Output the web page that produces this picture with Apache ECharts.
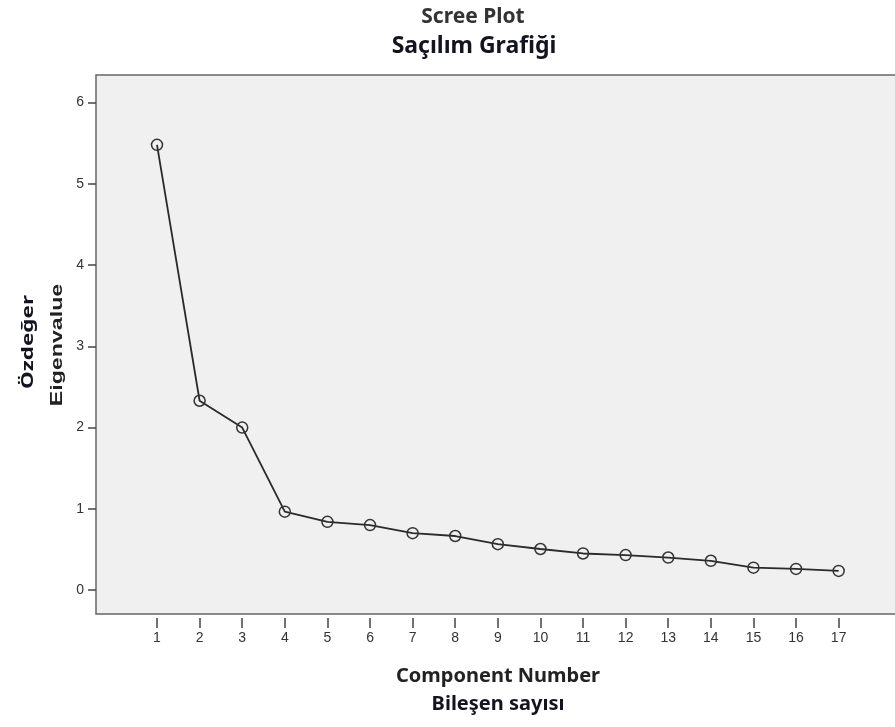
<!DOCTYPE html>
<html>
<head>
<meta charset="utf-8">
<script src="https://cdn.jsdelivr.net/npm/echarts@6/dist/echarts.min.js"></script>
<style>
  html, body { margin: 0; padding: 0; background: #fff; }
  #main { width: 895px; height: 727px; }
</style>
</head>
<body>
<div id="main"></div>
<script>
// component numbers and their eigenvalues
var components = [1, 2, 3, 4, 5, 6, 7, 8, 9, 10, 11, 12, 13, 14, 15, 16, 17];
var eigenvalues = [5.48, 2.33, 2.0, 0.965, 0.84, 0.8, 0.7, 0.665, 0.565, 0.505, 0.45, 0.43, 0.4, 0.36, 0.275, 0.26, 0.235];
var yTicks = [0, 1, 2, 3, 4, 5, 6];

var points = components.map(function (c, i) { return [c, eigenvalues[i]]; });

var myChart = echarts.init(document.getElementById('main'));
myChart.setOption({
  animation: false,
  backgroundColor: '#fff',
  title: [{
    text: 'Scree Plot',
    left: 468,
    textAlign: 'center',
    top: 0,
    textStyle: { fontFamily: 'Noto Sans', fontWeight: 'bold', fontSize: 21, lineHeight: 24, color: '#333' }
  }, {
    text: 'Saçılım Grafiği',
    left: 469,
    textAlign: 'center',
    top: 28,
    textStyle: { fontFamily: 'Noto Sans', fontWeight: 'bold', fontSize: 23, lineHeight: 26, color: '#141420' }
  }],
  // rotated y-axis titles, stretched along their length like the reference
  graphic: [{
    type: 'text',
    x: 28, y: 342,
    rotation: Math.PI / 2,
    scaleX: 1.4,
    style: { text: 'Özdeğer', fontFamily: 'Noto Sans', fontWeight: 'bold', fontSize: 16, fill: '#141420', align: 'center', verticalAlign: 'middle' }
  }, {
    type: 'text',
    x: 58, y: 345,
    rotation: Math.PI / 2,
    scaleX: 1.45,
    style: { text: 'Eigenvalue', fontFamily: 'Liberation Sans', fontWeight: 'bold', fontSize: 16, fill: '#222', align: 'center', verticalAlign: 'middle' }
  }],
  grid: {
    left: 96, top: 75, right: -5, bottom: 113,
    outerBoundsMode: 'none',
    show: true,
    backgroundColor: '#f0f0f0',
    borderColor: '#666',
    borderWidth: 1.5
  },
  xAxis: {
    type: 'value',
    min: -0.432,
    max: 18.44,
    offset: 4,
    axisLine: { show: false, onZero: false },
    splitLine: { show: false },
    axisTick: { show: true, length: 10, customValues: components, lineStyle: { color: '#444', width: 1.5 } },
    axisLabel: { customValues: components, margin: 13, fontFamily: 'Liberation Sans', fontSize: 14, color: '#333' },
    name: '{a|Component Number}\n{b|Bileşen sayısı}',
    nameLocation: 'middle',
    nameGap: 44,
    nameTextStyle: {
      rich: {
        a: { fontFamily: 'Noto Sans', fontWeight: 'bold', fontSize: 20, color: '#222', lineHeight: 28 },
        b: { fontFamily: 'Noto Sans', fontWeight: 'bold', fontSize: 20, color: '#141420', lineHeight: 28 }
      }
    }
  },
  yAxis: {
    type: 'value',
    min: -0.295,
    max: 6.34,
    axisLine: { show: false, onZero: false },
    splitLine: { show: false },
    axisTick: { show: true, length: 8, customValues: yTicks, lineStyle: { color: '#444', width: 1.5 } },
    axisLabel: { customValues: yTicks, margin: 12, fontFamily: 'Liberation Sans', fontSize: 14, color: '#333' }
  },
  series: [{
    type: 'line',
    data: points,
    symbol: 'circle',
    symbolSize: 11,
    lineStyle: { color: '#2a2a2a', width: 1.8 },
    itemStyle: { color: 'transparent', borderColor: '#333', borderWidth: 1.5 }
  }]
});
</script>
</body>
</html>
